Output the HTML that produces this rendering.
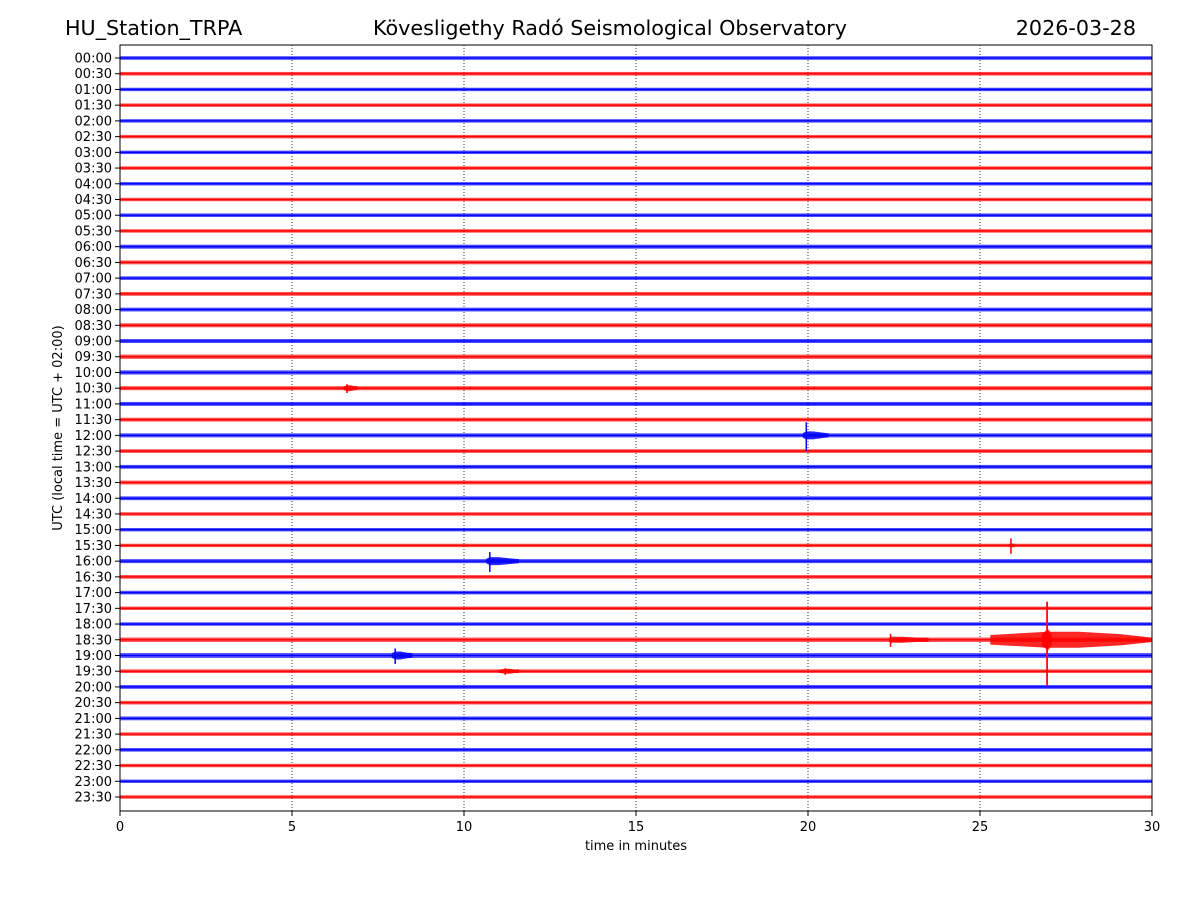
<!DOCTYPE html>
<html><head><meta charset="utf-8"><style>
body{margin:0;background:#fff;}
svg text{font-family:"DejaVu Sans","Liberation Sans",sans-serif;}
</style></head><body>
<svg id="chart" width="1200" height="900" xmlns="http://www.w3.org/2000/svg">
<rect width="1200" height="900" fill="#fff"/>
<text x="65" y="35" font-size="20.7">HU_Station_TRPA</text>
<text x="610" y="35" font-size="20.7" text-anchor="middle">Kövesligethy Radó Seismological Observatory</text>
<text x="1136" y="35" font-size="20.7" text-anchor="end">2026-03-28</text>
<g id="grid"></g>
<g id="traces"></g>
<rect x="120" y="45" width="1032" height="766" fill="none" stroke="#000" stroke-width="1"/>
<g id="axes"></g>
<text x="636" y="850" font-size="13" text-anchor="middle">time in minutes</text>
<text transform="translate(62,428) rotate(-90)" font-size="13" text-anchor="middle">UTC (local time = UTC + 02:00)</text>
</svg>
<script>
const xTicks=[0,5,10,15,20,25,30];
const rowLabels=[];for(let h=0;h<24;h++){const hh=String(h).padStart(2,'0');rowLabels.push(hh+':00');rowLabels.push(hh+':30');}
const noiseAmp=[1.8,1.8,1.7,1.7,1.7,1.7,1.7,1.7,1.7,1.7,1.8,1.7,2.0,1.9,1.8,1.9,1.9,2.0,2.0,2.1,2.1,2.0,2.0,1.9,2.0,1.8,1.9,1.9,1.9,1.7,1.7,1.7,2.0,1.8,1.8,1.7,1.7,2.2,2.4,1.8,1.9,1.8,1.9,1.7,1.8,1.7,1.7,1.7];
// events: row index, start minute, peak minute, end minute, peak amplitude (px), coda amplitude (px)
const evRow=[24,32,31,37,37,37,38,21,39];
const evStart=[19.85,10.65,25.85,22.35,25.3,26.8,7.9,6.5,11.0];
const evPeak=[19.95,10.75,25.9,22.4,26.95,26.95,8.0,6.6,11.2];
const evEnd=[20.6,11.6,26.0,23.5,30.0,27.1,8.5,6.9,11.6];
const evAmp=[13,9,7,6,38,38,7,4,3];
const evCoda=[4,4,2,3,8,10,4,3,2.5];
const X0=120,X1=1152,Y0=58,DY=(797-58)/47;
const xs=m=>X0+(m/30)*(X1-X0);
const ys=i=>Y0+i*DY;
const NS='http://www.w3.org/2000/svg';
function mk(t,a,p){const e=document.createElementNS(NS,t);for(const k in a)e.setAttribute(k,a[k]);p.appendChild(e);return e;}
const grid=document.getElementById('grid'),tr=document.getElementById('traces'),ax=document.getElementById('axes');
xTicks.forEach(t=>{
 if(t>0&&t<30){const l=mk('line',{x1:xs(t),x2:xs(t),y1:45,y2:811,stroke:'#000','stroke-width':0.8,'stroke-dasharray':'1,2'},grid);
 
 }
 const tk=mk('line',{x1:xs(t),x2:xs(t),y1:811,y2:816,stroke:'#000'},ax);
 
 
 const tx=mk('text',{x:xs(t),y:831,'font-size':13,'text-anchor':'middle'},ax);tx.textContent=t;
 
 
});
rowLabels.forEach((lab,i)=>{
 const y=ys(i),col=i%2?'#ff0000':'#0000ff';
 const tk=mk('line',{x1:115,x2:120,y1:y,y2:y,stroke:'#000'},ax);
 
 
 const tx=mk('text',{x:112,y:y+4.5,'font-size':13,'text-anchor':'end'},ax);tx.textContent=lab;
 
 
 const a=noiseAmp[i];
 const b=mk('rect',{x:X0,y:y-a,width:X1-X0,height:2*a,fill:col,opacity:0.7},tr);
 
 
 const l=mk('line',{x1:X0,x2:X1,y1:y,y2:y,stroke:col,'stroke-width':1.3},tr);
 
 
});
evRow.forEach((r,k)=>{
 const y=ys(r),col=r%2?'#ff0000':'#0000ff';
 const s=evStart[k],p=evPeak[k],e=evEnd[k],A=evAmp[k],C=evCoda[k];
 const pts=[[s,C*0.6],[p,C],[p+(e-p)*0.3,C],[p+(e-p)*0.7,C*0.7],[e,noiseAmp[r]]];
 let d='M'+xs(s)+','+y;
 pts.forEach(q=>d+=' L'+xs(q[0])+','+(y-q[1]));
 for(let j=pts.length-1;j>=0;j--)d+=' L'+xs(pts[j][0])+','+(y+pts[j][1]);
 d+='Z';
 const pe=mk('path',{d:d,fill:col,opacity:0.85},tr);
 
 
 const sp=mk('line',{x1:xs(p),x2:xs(p),y1:y-A,y2:y+A*1.2,stroke:col,'stroke-width':1.5},tr);
 
 
});
</script>
</body></html>
